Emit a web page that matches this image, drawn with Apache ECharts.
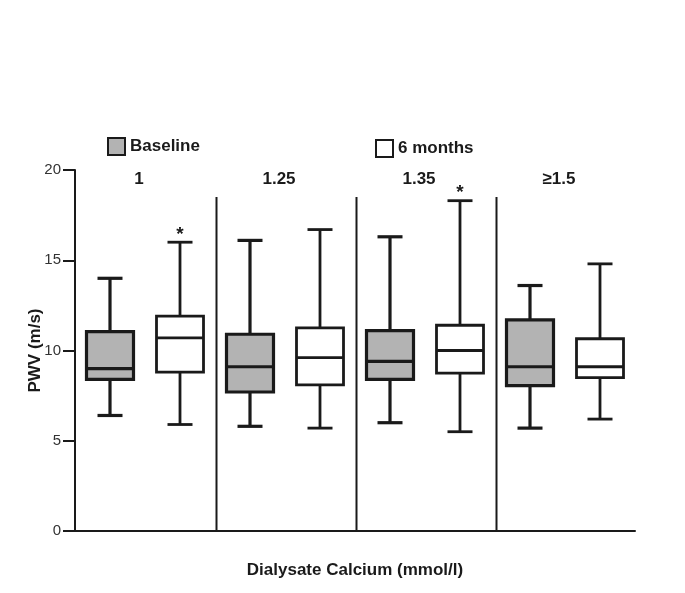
<!DOCTYPE html>
<html>
<head>
<meta charset="utf-8">
<script src="https://cdn.jsdelivr.net/npm/echarts@6/dist/echarts.min.js"></script>
<style>
html,body{margin:0;padding:0;background:#fff;}
#chart{width:685px;height:593px;}
</style>
</head>
<body>
<div id="chart"></div>
<script>
// Data: [min, q1, median, q3, max]
const categories = ['1', '1.25', '1.35', '\u22651.5'];
const baseline = [
  [6.4, 8.4, 9.0, 11.05, 14.0],
  [5.8, 7.7, 9.1, 10.9, 16.1],
  [6.0, 8.4, 9.4, 11.1, 16.3],
  [5.7, 8.05, 9.1, 11.7, 13.6]
];
const sixMonths = [
  [5.9, 8.8, 10.7, 11.9, 16.0],
  [5.7, 8.1, 9.6, 11.25, 16.7],
  [5.5, 8.75, 10.0, 11.4, 18.3],
  [6.2, 8.5, 9.1, 10.65, 14.8]
];
const significant = [true, false, true, false];
const separatorTop = 18.5;
const yMin = 0, yMax = 20, yInterval = 5;

const LINE = '#1a1a1a';
const GRAY = '#b3b3b3';

function boxRender(offsetSign, fill, lw, showStar) {
  return function (params, api) {
    const g = api.value(0);
    const band = api.size([1, 0])[0];
    const cx = api.coord([g, 0])[0] + offsetSign * band / 4;
    const yv = i => api.coord([g, api.value(i)])[1];
    const pMin = yv(1), pQ1 = yv(2), pMed = yv(3), pQ3 = yv(4), pMax = yv(5);
    const bw = 47, cw = 25;
    const st = {stroke: LINE, lineWidth: lw, fill: null};
    const children = [
      {type: 'line', shape: {x1: cx, y1: pMax, x2: cx, y2: pQ3}, style: st},
      {type: 'line', shape: {x1: cx, y1: pQ1, x2: cx, y2: pMin}, style: st},
      {type: 'line', shape: {x1: cx - cw / 2, y1: pMax, x2: cx + cw / 2, y2: pMax}, style: st},
      {type: 'line', shape: {x1: cx - cw / 2, y1: pMin, x2: cx + cw / 2, y2: pMin}, style: st},
      {type: 'rect', shape: {x: cx - bw / 2, y: pQ3, width: bw, height: pQ1 - pQ3},
        style: {stroke: LINE, lineWidth: lw, fill: fill}},
      {type: 'line', shape: {x1: cx - bw / 2, y1: pMed, x2: cx + bw / 2, y2: pMed}, style: st}
    ];
    if (showStar && significant[g]) {
      children.push({type: 'text', style: {text: '*', x: cx, y: pMax - 17, align: 'center', verticalAlign: 'top',
        fill: LINE, font: 'bold 19px "Liberation Sans", Arial, sans-serif'}});
    }
    return {type: 'group', children: children};
  };
}

function groupRender(params, api) {
  const g = api.value(0);
  const band = api.size([1, 0])[0];
  const c = api.coord([g, 0]);
  const children = [];
  if (g > 0) {
    const left = c[0] - band / 2 + 1.5;
    const top = api.coord([g, separatorTop])[1];
    children.push({type: 'line', shape: {x1: left, y1: c[1], x2: left, y2: top},
      style: {stroke: LINE, lineWidth: 2}});
  }
  const ty = api.coord([g, 19.5])[1];
  children.push({type: 'text', style: {text: categories[g], x: c[0] - 6, y: ty, align: 'center', verticalAlign: 'middle',
    fill: LINE, font: 'bold 17px "Liberation Sans", Arial, sans-serif'}});
  return {type: 'group', children: children};
}

const chart = echarts.init(document.getElementById('chart'));
const legendCommon = {
  icon: 'rect', itemWidth: 17, itemHeight: 17, selectedMode: false, padding: 0,
  textStyle: {fontSize: 17, fontWeight: 'bold', color: LINE, fontFamily: '"Liberation Sans", Arial, sans-serif'}
};
chart.setOption({
  animation: false,
  backgroundColor: '#fff',
  textStyle: {fontFamily: '"Liberation Sans", Arial, sans-serif'},
  grid: {left: 75, right: 50, top: 170, bottom: 62},
  legend: [
    Object.assign({}, legendCommon, {left: 107, top: 137,
      data: [{name: 'Baseline', itemStyle: {color: GRAY, borderColor: LINE, borderWidth: 2}}]}),
    Object.assign({}, legendCommon, {left: 375, top: 139,
      data: [{name: '6 months', itemStyle: {color: '#fff', borderColor: LINE, borderWidth: 2}}]})
  ],
  xAxis: {
    type: 'category', data: categories, boundaryGap: true,
    axisLine: {lineStyle: {color: LINE, width: 2}},
    axisTick: {show: false}, axisLabel: {show: false}, splitLine: {show: false},
    name: 'Dialysate Calcium (mmol/l)', nameLocation: 'middle', nameGap: 31,
    nameTextStyle: {fontSize: 17, fontWeight: 'bold', color: LINE}
  },
  yAxis: {
    type: 'value', min: yMin, max: yMax, interval: yInterval,
    axisLine: {show: true, lineStyle: {color: LINE, width: 2}},
    axisTick: {show: true, length: 12, lineStyle: {color: LINE, width: 2}},
    axisLabel: {fontSize: 15, color: '#333', margin: 14},
    splitLine: {show: false},
    name: 'PWV (m/s)', nameLocation: 'middle', nameGap: 31, nameMoveOverlap: false,
    nameTextStyle: {fontSize: 17, fontWeight: 'bold', color: LINE}
  },
  series: [
    {
      name: 'groups', type: 'custom', silent: true, clip: false,
      data: categories.map((c, i) => [i]),
      encode: {x: 0},
      renderItem: groupRender
    },
    {
      name: 'Baseline', type: 'custom', clip: false,
      itemStyle: {color: GRAY},
      data: baseline.map((d, i) => [i].concat(d)),
      encode: {x: 0, y: [1, 2, 3, 4, 5]},
      renderItem: boxRender(-1, GRAY, 3.2, false)
    },
    {
      name: '6 months', type: 'custom', clip: false,
      itemStyle: {color: '#fff'},
      data: sixMonths.map((d, i) => [i].concat(d)),
      encode: {x: 0, y: [1, 2, 3, 4, 5]},
      renderItem: boxRender(1, '#fff', 2.8, true)
    }
  ]
});
</script>
</body>
</html>
